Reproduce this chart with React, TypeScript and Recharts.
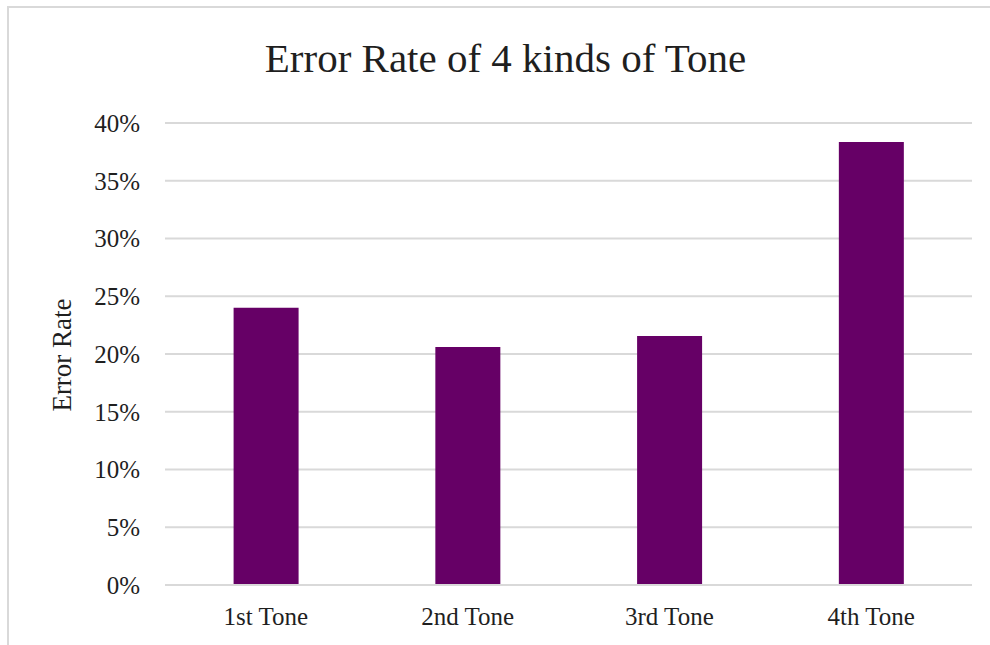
import React from 'react';
import { BarChart, Bar, XAxis, YAxis, CartesianGrid, Customized } from 'recharts';

const tones = ['1st Tone', '2nd Tone', '3rd Tone', '4th Tone'];
const errorRates = [0.24, 0.206, 0.2155, 0.3835];
const yTicks = [0, 0.05, 0.1, 0.15, 0.2, 0.25, 0.3, 0.35, 0.4];

const data = tones.map((tone, i) => ({ tone, rate: errorRates[i] }));

const FONT = '"Liberation Serif", "Times New Roman", serif';
const TEXT = '#1f1f1f';
const WIDTH = 981;
const HEIGHT = 637;

const pct = (v: number) => `${Math.round(v * 100)}%`;

function Title() {
  return (
    <text
      x={WIDTH / 2 + 6}
      y={64}
      textAnchor="middle"
      fontFamily={FONT}
      fontSize={41}
      fill={TEXT}
    >
      Error Rate of 4 kinds of Tone
    </text>
  );
}

function YLabel() {
  const x = 62;
  const y = 347;
  return (
    <text
      x={x}
      y={y}
      transform={`rotate(-90 ${x} ${y})`}
      textAnchor="middle"
      fontFamily={FONT}
      fontSize={27}
      fill={TEXT}
    >
      Error Rate
    </text>
  );
}

export default function App() {
  return (
    <div
      style={{
        position: 'absolute',
        left: 7,
        top: 6,
        borderTop: '2px solid #d9d9d9',
        borderLeft: '2px solid #d9d9d9',
        width: WIDTH,
        height: HEIGHT,
      }}
    >
      <BarChart
        width={WIDTH}
        height={HEIGHT}
        data={data}
        margin={{ top: 115, right: 18, left: 0, bottom: 30 }}
        barCategoryGap="34%"
      >
        <CartesianGrid vertical={false} stroke="#d9d9d9" strokeWidth={2} />
        <XAxis
          dataKey="tone"
          height={30}
          axisLine={{ stroke: '#d9d9d9', strokeWidth: 2 }}
          tickLine={false}
          tickSize={0}
          tickMargin={22}
          tick={{ fontFamily: FONT, fontSize: 25, fill: TEXT }}
        />
        <YAxis
          width={156}
          domain={[0, 0.4]}
          ticks={yTicks}
          tickFormatter={pct}
          axisLine={false}
          tickLine={false}
          tickSize={0}
          tickMargin={25}
          tick={{ fontFamily: FONT, fontSize: 25, fill: TEXT }}
        />
        <Bar dataKey="rate" fill="#660066" isAnimationActive={false} />
        <Customized component={Title} />
        <Customized component={YLabel} />
      </BarChart>
    </div>
  );
}
